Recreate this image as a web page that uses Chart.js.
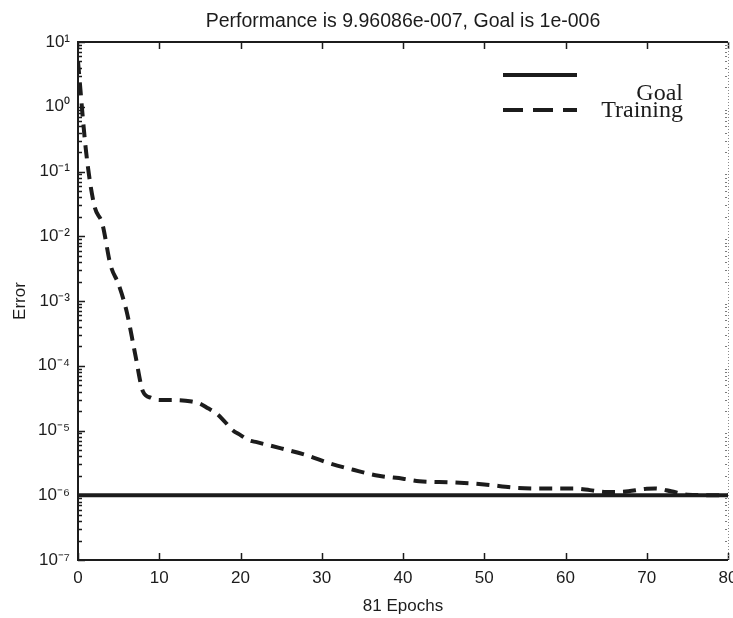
<!DOCTYPE html>
<html>
<head>
<meta charset="utf-8">
<script src="https://cdn.jsdelivr.net/npm/chart.js@4/dist/chart.umd.min.js"></script>
<style>
  html, body { margin: 0; padding: 0; background: #fff; }
  #wrap { width: 733px; height: 618px; }
</style>
</head>
<body>
<div id="wrap"><canvas id="c" width="733" height="618"></canvas></div>
<script>
// ---- data ----
const titleText = 'Performance is 9.96086e-007, Goal is 1e-006';
const xTitle = '81 Epochs';
const yTitle = 'Error';
const seriesNames = ['Goal', 'Training'];

const epochs = [0, 1, 2, 3, 4, 5, 6, 7, 8, 9, 10, 12, 14, 15, 16, 17, 18, 19, 20, 21, 22, 25, 28, 31, 34, 37, 40, 42, 46, 50, 54, 58, 61, 63, 65, 67, 70, 71, 73, 75, 80];
const trainingError = [5, 0.2, 0.03, 0.0155, 0.0036, 0.0018, 6.8e-4, 1.6e-4, 4.0e-5, 3.2e-5, 2.95e-5, 2.95e-5, 2.8e-5, 2.6e-5, 2.2e-5, 1.85e-5, 1.4e-5, 1.02e-5, 8.5e-6, 7.1e-6, 6.6e-6, 5.3e-6, 4.2e-6, 3.1e-6, 2.45e-6, 2.0e-6, 1.8e-6, 1.65e-6, 1.58e-6, 1.47e-6, 1.3e-6, 1.27e-6, 1.27e-6, 1.2e-6, 1.12e-6, 1.13e-6, 1.26e-6, 1.27e-6, 1.15e-6, 1.02e-6, 9.96086e-7];

const goalEpochs = [0, 80];
const goalError = [1e-6, 1e-6];

const xTickValues = [0, 10, 20, 30, 40, 50, 60, 70, 80];
const yTickValues = [1e-7, 1e-6, 1e-5, 1e-4, 1e-3, 1e-2, 1e-1, 1, 10];
const yTickLabels = ['10⁻⁷', '10⁻⁶', '10⁻⁵', '10⁻⁴', '10⁻³', '10⁻²', '10⁻¹', '10⁰', '10¹'];
const yMinorMultipliers = [2, 3, 4, 5, 6, 7, 8, 9];

// ---- chart ----
const INK = '#1c1c1c';
const SANS = '"Liberation Sans", Arial, Helvetica, sans-serif';
const SERIF = '"Liberation Serif", "Times New Roman", serif';

const frame = {
  id: 'frame',
  afterDatasetsDraw(chart) {
    const { ctx, chartArea: a, scales: { x, y } } = chart;
    ctx.save();
    // inward tick marks
    ctx.strokeStyle = INK;
    ctx.lineWidth = 1.5;
    ctx.beginPath();
    xTickValues.forEach(v => {
      const px = Math.round(x.getPixelForValue(v)) + 0.5;
      ctx.moveTo(px, a.bottom); ctx.lineTo(px, a.bottom - 7);
      ctx.moveTo(px, a.top); ctx.lineTo(px, a.top + 7);
    });
    yTickValues.forEach((v, i) => {
      const py = Math.round(y.getPixelForValue(v)) + 0.5;
      ctx.moveTo(a.left, py); ctx.lineTo(a.left + 7, py);
      if (i < yTickValues.length - 1) {
        yMinorMultipliers.forEach(m => {
          const q = Math.round(y.getPixelForValue(v * m)) + 0.5;
          ctx.moveTo(a.left, q); ctx.lineTo(a.left + 4, q);
        });
      }
    });
    ctx.stroke();
    // right axis rendered faint/dotted as in the scan
    ctx.strokeStyle = '#8a8a8a';
    ctx.lineWidth = 1;
    ctx.setLineDash([1, 2]);
    ctx.beginPath();
    ctx.moveTo(a.right + 0.5, a.top); ctx.lineTo(a.right + 0.5, a.bottom);
    ctx.stroke();
    ctx.setLineDash([]);
    ctx.fillStyle = '#7a7a7a';
    yTickValues.forEach((v, i) => {
      if (i < yTickValues.length - 1) {
        yMinorMultipliers.forEach(m => {
          const q = Math.round(y.getPixelForValue(v * m));
          ctx.fillRect(a.right - 3, q, 2, 1);
        });
      }
    });
    // box
    ctx.strokeStyle = INK;
    ctx.lineWidth = 2;
    ctx.beginPath();
    ctx.moveTo(a.right, a.top); ctx.lineTo(a.left, a.top); ctx.lineTo(a.left, a.bottom); ctx.lineTo(a.right, a.bottom);
    ctx.stroke();

    // legend (no frame)
    const ds = chart.data.datasets;
    const lx0 = a.left + 425, lx1 = a.left + 499, tx = a.left + 605;
    const rows = [{ ly: a.top + 33, ty: a.top + 58 }, { ly: a.top + 68, ty: a.top + 75 }];
    ds.forEach((d, i) => {
      ctx.strokeStyle = d.borderColor;
      ctx.lineWidth = 4;
      ctx.setLineDash(i === 0 ? [] : [20, 10]);
      ctx.beginPath();
      ctx.moveTo(lx0, rows[i].ly); ctx.lineTo(lx1, rows[i].ly);
      ctx.stroke();
      ctx.setLineDash([]);
      ctx.fillStyle = INK;
      ctx.font = '24px ' + SERIF;
      ctx.textAlign = 'right';
      ctx.textBaseline = 'alphabetic';
      ctx.fillText(d.label, tx, rows[i].ty);
    });
    ctx.restore();
  }
};

new Chart(document.getElementById('c'), {
  type: 'line',
  data: {
    datasets: [
      {
        label: seriesNames[0],
        data: goalEpochs.map((e, i) => ({ x: e, y: goalError[i] })),
        borderColor: INK,
        borderWidth: 4,
        pointRadius: 0,
        fill: false,
        tension: 0
      },
      {
        label: seriesNames[1],
        data: epochs.map((e, i) => ({ x: e, y: trainingError[i] })),
        borderColor: INK,
        borderWidth: 4,
        borderDash: [13, 8],
        pointRadius: 0,
        fill: false,
        tension: 0.3,
        cubicInterpolationMode: 'monotone'
      }
    ]
  },
  options: {
    responsive: false,
    animation: false,
    events: [],
    layout: { padding: { left: 0, right: 5, top: 0, bottom: 0 } },
    plugins: {
      legend: { display: false },
      tooltip: { enabled: false },
      title: {
        display: true,
        fullSize: false,
        text: titleText,
        color: INK,
        font: { family: SANS, size: 19.5, weight: 'normal' },
        padding: { top: 10, bottom: 8.6 }
      }
    },
    scales: {
      x: {
        type: 'linear',
        min: 0, max: 80,
        grid: { display: false },
        border: { display: false },
        afterBuildTicks: s => { s.ticks = xTickValues.map(v => ({ value: v })); },
        afterFit: s => { s.height = 58; s.paddingLeft = 0; s.paddingRight = 0; },
        ticks: {
          color: INK,
          font: { family: SANS, size: 17 },
          padding: 0,
          autoSkip: false,
          maxRotation: 0,
          callback: v => String(v)
        },
        title: {
          display: true,
          text: xTitle,
          color: INK,
          font: { family: SANS, size: 17 },
          padding: { top: 0, bottom: 1 }
        }
      },
      y: {
        type: 'logarithmic',
        min: 1e-7, max: 10,
        grid: { display: false },
        border: { display: false },
        afterBuildTicks: s => { s.ticks = yTickValues.map(v => ({ value: v })); },
        afterFit: s => { s.width = 78; s.paddingTop = 0; s.paddingBottom = 0; },
        ticks: {
          color: INK,
          font: { family: SANS, size: 17 },
          padding: 0,
          autoSkip: false,
          callback: (v) => {
            const i = yTickValues.findIndex(t => Math.abs(Math.log10(t) - Math.log10(v)) < 1e-6);
            return i >= 0 ? yTickLabels[i] : '';
          }
        },
        title: {
          display: true,
          text: yTitle,
          color: INK,
          font: { family: SANS, size: 17 },
          padding: { top: 10, bottom: 0 }
        }
      }
    }
  },
  plugins: [frame]
});
</script>
</body>
</html>
